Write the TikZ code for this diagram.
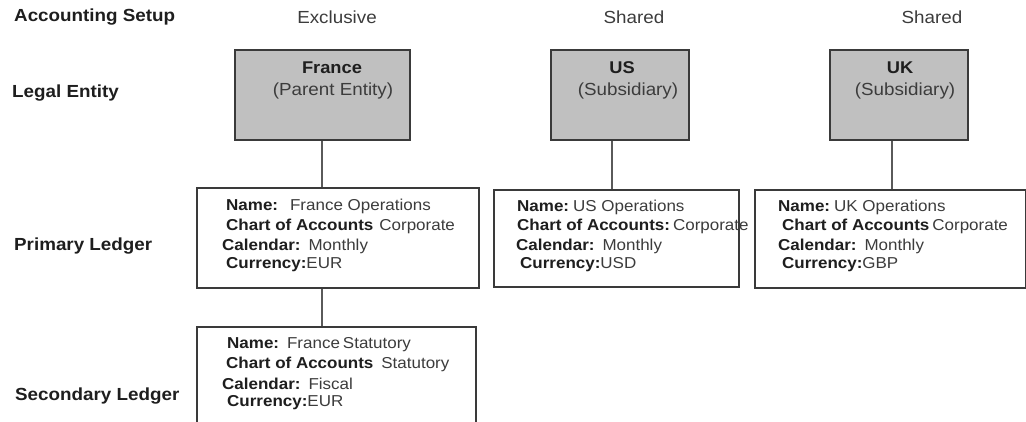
\documentclass[tikz,border=0pt]{standalone}
\usepackage{fontspec}
\setmainfont[FakeStretch=1.075]{Liberation Sans}
\definecolor{boxfill}{HTML}{C0C0C0}
\definecolor{edgecol}{HTML}{3A3A3A}
\definecolor{linecol}{HTML}{5A5A5A}
\definecolor{txtnorm}{HTML}{3C3C3C}
\definecolor{txtbold}{HTML}{1E1E1E}
\begin{document}
\begin{tikzpicture}[x=1pt,y=-1pt,
  hdr/.style={font=\fontsize{17.5}{20}\selectfont\bfseries, text=txtbold, anchor=west, inner sep=0},
  col/.style={font=\fontsize{17.5}{20}\selectfont, text=txtnorm, inner sep=0},
  entity/.style={draw=edgecol, line width=1.8pt, fill=boxfill, anchor=north west, inner sep=0, minimum height=90pt},
  ledger/.style={draw=edgecol, line width=1.6pt, fill=white, anchor=north west, inner sep=0},
  ename/.style={font=\fontsize{17}{20}\selectfont\bfseries, text=txtbold, inner sep=0},
  etype/.style={font=\fontsize{17.5}{20}\selectfont, text=txtnorm, inner sep=0},
  ln/.style={font=\fontsize{15.8}{19}\selectfont, text=txtnorm, anchor=west, inner sep=0},
  conn/.style={draw=linecol, line width=1.8pt}]
\clip (0,0) rectangle (1026,421);
\fill[white] (0,0) rectangle (1026,421);
% row headers
\node[hdr] (h1) at (14,17) {Accounting Setup};
\node[hdr] (h2) at (12,93) {Legal Entity};
\node[hdr] (h3) at (14,246) {Primary Ledger};
\node[hdr] (h4) at (15,396) {Secondary Ledger};
% column headers
\node[col] (c1) at (337,17) {Exclusive};
\node[col] (c2) at (634,17) {Shared};
\node[col] (c3) at (932,17) {Shared};
% entities
\node[entity, minimum width=175pt] (fr) at (234,49) {};
\node[entity, minimum width=138pt] (us) at (550,49) {};
\node[entity, minimum width=138pt] (uk) at (829,49) {};
\node[ename] (frn) at (332,68) {France};
\node[etype] (frt) at (333,91) {(Parent Entity)};
\node[ename] (usn) at (622,68) {US};
\node[etype] (ust) at (628,91) {(Subsidiary)};
\node[ename] (ukn) at (900,68) {UK};
\node[etype] (ukt) at (905,91) {(Subsidiary)};
% ledgers
\node[ledger, minimum width=282pt, minimum height=100pt] (frp) at (196,187) {};
\node[ledger, minimum width=245pt, minimum height=97pt] (usp) at (493,189) {};
\node[ledger, minimum width=271pt, minimum height=98pt] (ukp) at (754,189) {};
\node[ledger, minimum width=279pt, minimum height=130pt] (frs) at (196,326) {};
% connectors
\coordinate (frx) at (322,0);
\coordinate (usx) at (612,0);
\coordinate (ukx) at (892,0);
\draw[conn] (frx |- fr.south) -- (frx |- frp.north);
\draw[conn] (frx |- frp.south) -- (frx |- frs.north);
\draw[conn] (usx |- us.south) -- (usx |- usp.north);
\draw[conn] (ukx |- uk.south) -- (ukx |- ukp.north);
% France primary
\node[ln] (fp1) at (226,206) {\textbf{\color{txtbold}Name:}\hspace{12pt}France Operations};
\node[ln] (fp2) at (226,226) {\textbf{\color{txtbold}Chart of Accounts}\hspace{6pt}Corporate};
\node[ln] (fp3) at (222,246) {\textbf{\color{txtbold}Calendar:}\hspace{8pt}Monthly};
\node[ln] (fp4) at (226,265) {\textbf{\color{txtbold}Currency:}EUR};
% US primary
\node[ln] (up1) at (517,207) {\textbf{\color{txtbold}Name:}\hspace{4pt}US Operations};
\node[ln] (up2) at (517,226) {\textbf{\color{txtbold}Chart of Accounts:}\hspace{3pt}Corporate};
\node[ln] (up3) at (516,246) {\textbf{\color{txtbold}Calendar:}\hspace{8pt}Monthly};
\node[ln] (up4) at (520,265) {\textbf{\color{txtbold}Currency:}USD};
% UK primary
\node[ln] (kp1) at (778,207) {\textbf{\color{txtbold}Name:}\hspace{4pt}UK Operations};
\node[ln] (kp2) at (782,226) {\textbf{\color{txtbold}Chart of Accounts}\hspace{3pt}Corporate};
\node[ln] (kp3) at (778,246) {\textbf{\color{txtbold}Calendar:}\hspace{8pt}Monthly};
\node[ln] (kp4) at (782,265) {\textbf{\color{txtbold}Currency:}GBP};
% France secondary
\node[ln] (fs1) at (227,345) {\textbf{\color{txtbold}Name:}\hspace{8pt}France\hspace{3pt}Statutory};
\node[ln] (fs2) at (226,364) {\textbf{\color{txtbold}Chart of Accounts}\hspace{8pt}Statutory};
\node[ln] (fs3) at (222,384) {\textbf{\color{txtbold}Calendar:}\hspace{8pt}Fiscal};
\node[ln] (fs4) at (227,403) {\textbf{\color{txtbold}Currency:}EUR};
\end{tikzpicture}
\end{document}
